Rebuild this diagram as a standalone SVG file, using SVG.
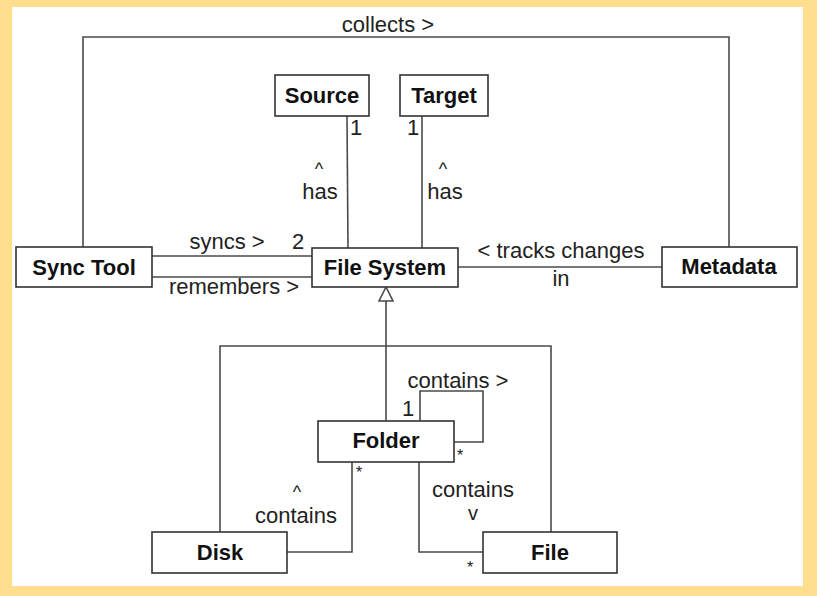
<svg xmlns="http://www.w3.org/2000/svg" width="817" height="596" viewBox="0 0 817 596">
<style>
.box{fill:#fff;stroke:#333;stroke-width:1.6}
.ln{fill:none;stroke:#4a4a4a;stroke-width:1.6}
.nl{font-family:"Liberation Sans",Arial,sans-serif;font-weight:bold;font-size:22px;fill:#111;text-anchor:middle}
.el{font-family:"Liberation Sans",Arial,sans-serif;font-size:22px;fill:#222;text-anchor:middle}
.st{font-family:"Liberation Sans",Arial,sans-serif;font-size:16px;fill:#222;text-anchor:middle}
.ca{font-family:"Liberation Sans",Arial,sans-serif;font-size:18px;fill:#222;text-anchor:middle}
</style>
<rect x="0" y="0" width="817" height="596" fill="#FFDF8E"/>
<rect x="12" y="7" width="791" height="579" fill="#fff"/>
<g id="connectors">
<polyline class="ln" points="83,247 83,37 729,37 729,247"/>
<line class="ln" x1="152" y1="256" x2="312" y2="256"/>
<line class="ln" x1="152" y1="277" x2="312" y2="277"/>
<line class="ln" x1="347" y1="116" x2="348" y2="248"/>
<line class="ln" x1="422" y1="116" x2="422" y2="248"/>
<line class="ln" x1="458" y1="267" x2="662" y2="267"/>
<line class="ln" x1="386" y1="301" x2="386" y2="421"/>
<polygon points="386,287 379,301 393,301" fill="#fff" stroke="#4a4a4a" stroke-width="1.6"/>
<polyline class="ln" points="220,532 220,346 551,346 551,532"/>
<polyline class="ln" points="420,421 420,391 483,391 483,442 454,442"/>
<polyline class="ln" points="287,552 352,552 352,462"/>
<polyline class="ln" points="419,462 419,552 483,552"/>
<text class="el" x="388" y="32">collects &gt;</text>
<text class="el" x="227" y="249">syncs &gt;</text>
<text class="el" x="298" y="249">2</text>
<text class="el" x="234" y="294">remembers &gt;</text>
<text class="el" x="356" y="135">1</text>
<text class="ca" x="319" y="175">^</text>
<text class="el" x="320" y="199">has</text>
<text class="el" x="413" y="135">1</text>
<text class="ca" x="443" y="175">^</text>
<text class="el" x="445" y="199">has</text>
<text class="el" x="561" y="258">&lt; tracks changes</text>
<text class="el" x="561" y="286">in</text>
<text class="el" x="458" y="388">contains &gt;</text>
<text class="el" x="408" y="416">1</text>
<text class="st" x="460" y="461">*</text>
<text class="st" x="359" y="478">*</text>
<text class="ca" x="297" y="498">^</text>
<text class="el" x="296" y="523">contains</text>
<text class="el" x="473" y="497">contains</text>
<text style="font-family:'Liberation Sans',Arial,sans-serif;font-size:20px;fill:#222;text-anchor:middle" x="473" y="520">v</text>
<text class="st" x="470" y="573">*</text>
</g>
<g id="source"><rect class="box" x="275" y="75" width="94" height="41"/><text class="nl" x="322" y="103">Source</text></g>
<g id="target"><rect class="box" x="400" y="75" width="88" height="41"/><text class="nl" x="444" y="103">Target</text></g>
<g id="synctool"><rect class="box" x="16" y="247" width="136" height="40"/><text class="nl" x="84" y="275">Sync Tool</text></g>
<g id="filesystem"><rect class="box" x="312" y="248" width="146" height="39"/><text class="nl" x="385" y="275">File System</text></g>
<g id="metadata"><rect class="box" x="662" y="247" width="135" height="40"/><text class="nl" x="729" y="274">Metadata</text></g>
<g id="folder"><rect class="box" x="318" y="421" width="136" height="41"/><text class="nl" x="386" y="448">Folder</text></g>
<g id="disk"><rect class="box" x="152" y="532" width="135" height="41"/><text class="nl" x="220" y="560">Disk</text></g>
<g id="file"><rect class="box" x="483" y="532" width="134" height="41"/><text class="nl" x="550" y="560">File</text></g>
</svg>
